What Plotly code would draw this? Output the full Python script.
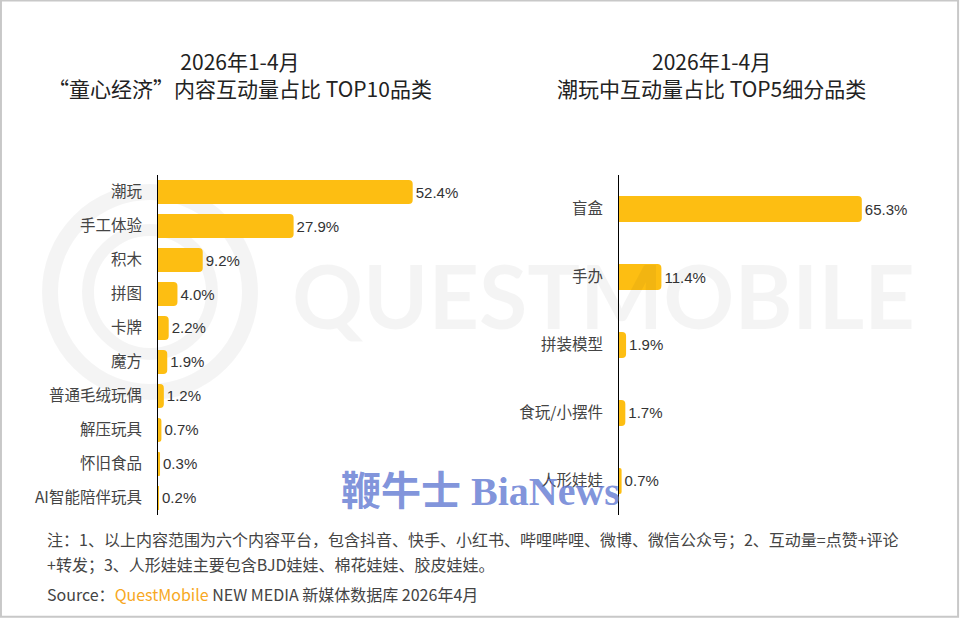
import plotly.graph_objects as go

left_cats = ["潮玩", "手工体验", "积木", "拼图", "卡牌", "魔方", "普通毛绒玩偶", "解压玩具", "怀旧食品", "AI智能陪伴玩具"]
left_vals = [52.4, 27.9, 9.2, 4.0, 2.2, 1.9, 1.2, 0.7, 0.3, 0.2]
right_cats = ["盲盒", "手办", "拼装模型", "食玩/小摆件", "人形娃娃"]
right_vals = [65.3, 11.4, 1.9, 1.7, 0.7]

left_title = "2026年1-4月<br>“童心经济”内容互动量占比 TOP10品类"
right_title = "2026年1-4月<br>潮玩中互动量占比 TOP5细分品类"
note1 = "注：1、以上内容范围为六个内容平台，包含抖音、快手、小红书、哔哩哔哩、微博、微信公众号；2、互动量=点赞+评论"
note2 = "+转发；3、人形娃娃主要包含BJD娃娃、棉花娃娃、胶皮娃娃。"

FONT = "Noto Sans CJK SC, Noto Sans, sans-serif"
NUMFONT = "Liberation Sans, Arial, sans-serif"
BAR = "#FDBE12"

fig = go.Figure()
fig.add_trace(go.Bar(
    x=left_vals, y=left_cats, orientation="h", xaxis="x", yaxis="y",
    marker=dict(color=BAR, line=dict(width=0)), width=0.7,
    text=[f"{v:.1f}%" for v in left_vals], textposition="outside", cliponaxis=False,
    textfont=dict(size=15, color="#333", family=NUMFONT),
    hoverinfo="skip"))
fig.add_trace(go.Bar(
    x=right_vals, y=right_cats, orientation="h", xaxis="x2", yaxis="y2",
    marker=dict(color=BAR, line=dict(width=0)), width=0.38,
    text=[f"{v:.1f}%" for v in right_vals], textposition="outside", cliponaxis=False,
    textfont=dict(size=15, color="#333", family=NUMFONT),
    hoverinfo="skip"))

yd = [0.1667, 0.7168]
fig.update_layout(
    width=960, height=618, margin=dict(l=0, r=0, t=0, b=0),
    paper_bgcolor="white", plot_bgcolor="rgba(0,0,0,0)",
    showlegend=False, barcornerradius=4,
    font=dict(family=FONT, color="#333"),
    xaxis=dict(domain=[0.1646, 0.48], range=[0, 62.3], visible=False, fixedrange=True),
    yaxis=dict(domain=yd, anchor="x", categoryorder="array", categoryarray=left_cats,
               range=[9.5, -0.5], showline=True, linecolor="#000", linewidth=1,
               showgrid=False, zeroline=False, ticks="", ticklabelstandoff=12,
               tickfont=dict(size=15.5, color="#444", family=FONT)),
    xaxis2=dict(domain=[0.6448, 0.95], range=[0, 78.8], visible=False, anchor="y2"),
    yaxis2=dict(domain=yd, anchor="x2", categoryorder="array", categoryarray=right_cats,
                range=[4.5, -0.5], showline=True, linecolor="#000", linewidth=1,
                showgrid=False, zeroline=False, ticks="", ticklabelstandoff=12,
                tickfont=dict(size=15.5, color="#444", family=FONT)),
)

ann = []
# background watermark
ann.append(dict(text="<b>QUESTMOBILE</b>", x=603, y=295, xanchor="center",
                font=dict(size=88, color="rgba(0,0,0,0.045)", family="Lato, Noto Sans, sans-serif")))
# titles
ann.append(dict(text=left_title, x=240, y=75, xanchor="center", align="center",
                font=dict(size=21, color="#222", family=FONT)))
ann.append(dict(text=right_title, x=711, y=75, xanchor="center", align="center",
                font=dict(size=21, color="#222", family=FONT)))
# note
ann.append(dict(text=note1, x=45, y=539, xanchor="left", align="left",
                font=dict(size=16, color="#444", family=FONT)))
ann.append(dict(text=note2, x=45, y=564, xanchor="left", align="left",
                font=dict(size=16, color="#444", family=FONT)))
ann.append(dict(text="Source：<span style='color:#F7A823'>QuestMobile</span> NEW MEDIA 新媒体数据库 2026年4月",
                x=45, y=594, xanchor="left",
                font=dict(size=16, color="#444", family=FONT)))
# BiaNews watermark
ann.append(dict(text="<b>鞭牛士 BiaNews</b>", x=480, y=491, xanchor="center",
                font=dict(size=40, color="rgba(95,120,210,0.8)", family="Liberation Serif, Noto Sans CJK SC, serif")))

for a in ann:
    a["xref"] = "paper"; a["yref"] = "paper"
    a["x"] = a["x"] / 960
    a["y"] = 1 - a["y"] / 618
    a["showarrow"] = False
    a.setdefault("yanchor", "middle")
fig.update_layout(annotations=ann)

def circ(cx, cy, r, w):
    return dict(type="circle", xref="paper", yref="paper",
                x0=(cx - r) / 960, x1=(cx + r) / 960, y0=1 - (cy + r) / 618, y1=1 - (cy - r) / 618,
                line=dict(color="rgba(0,0,0,0.045)", width=w), fillcolor="rgba(0,0,0,0)", layer="below")

fig.update_layout(shapes=[
    dict(type="rect", xref="paper", yref="paper", x0=0.001, x1=0.998, y0=0.002, y1=0.999,
         line=dict(color="#C8C8C8", width=2), fillcolor="rgba(0,0,0,0)", layer="above"),
    circ(150, 292, 100, 16),
    circ(150, 292, 62, 12),
])

fig.write_html("out.html")
